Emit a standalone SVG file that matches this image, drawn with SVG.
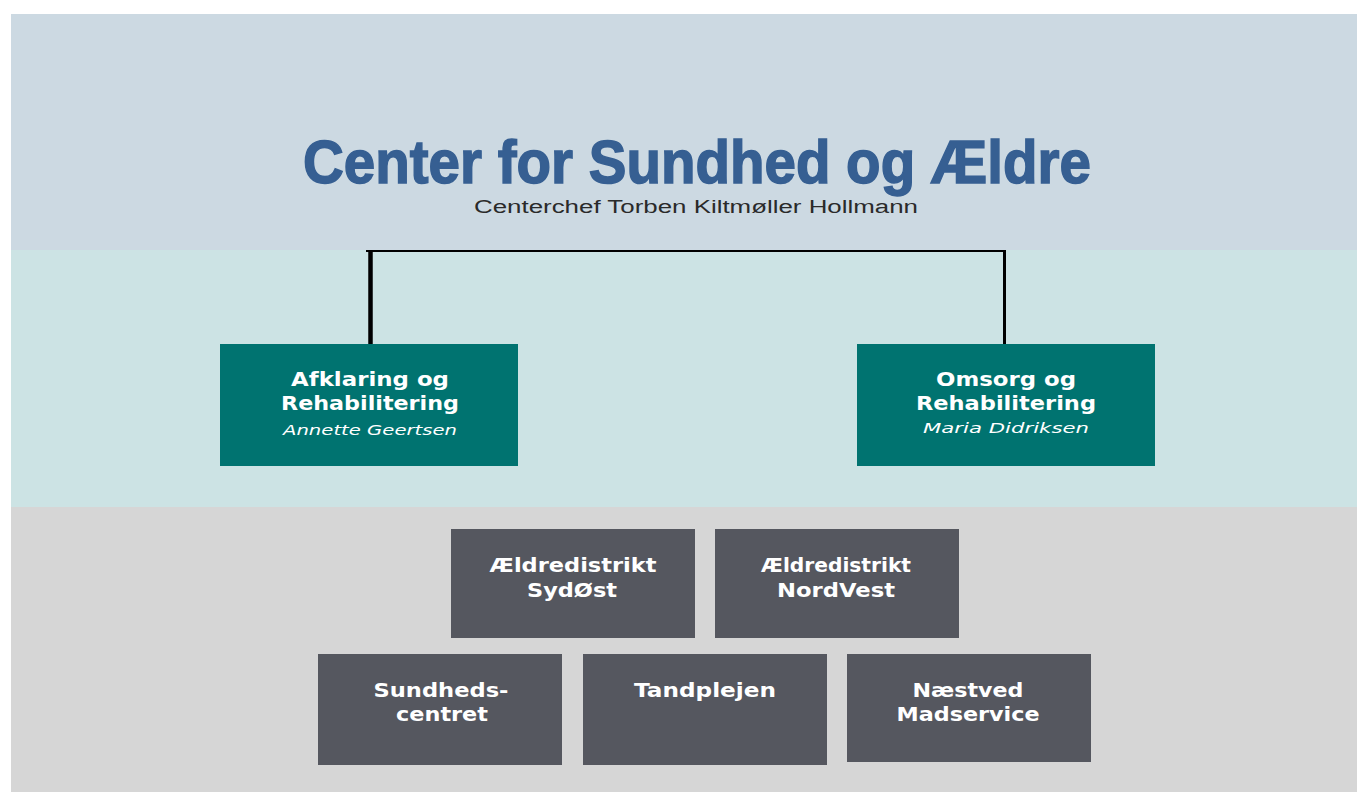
<svg xmlns="http://www.w3.org/2000/svg" width="1357" height="792" viewBox="0 0 1357 792">
<style>
.title{font-family:"Liberation Sans",Arial,sans-serif;font-weight:bold;font-size:62px;fill:#365f92;stroke:#365f92;stroke-width:1.5}
.sub{font-family:"Liberation Sans",Arial,sans-serif;font-size:18px;fill:#2a2a2a}
.teal{fill:#007370}
.grey{fill:#55575f}
.lbl{font-family:"DejaVu Sans",Verdana,sans-serif;font-weight:bold;font-size:19px;fill:#ffffff;text-anchor:middle}
.name{font-family:"DejaVu Sans",Verdana,sans-serif;font-style:italic;font-size:14px;fill:#ffffff;text-anchor:middle}
.conn{stroke:#000;fill:none}
</style>
<rect x="0" y="0" width="1357" height="792" fill="#ffffff"/>
<rect x="11" y="14" width="1346" height="236" fill="#ccd9e2"/>
<rect x="11" y="250" width="1346" height="257" fill="#cce3e4"/>
<rect x="11" y="507" width="1346" height="285" fill="#d6d6d6"/>
<g id="header">
<text class="title" x="303" y="183" textLength="788" lengthAdjust="spacingAndGlyphs">Center for Sundhed og Ældre</text>
<text class="sub" x="474" y="213" textLength="444" lengthAdjust="spacingAndGlyphs">Centerchef Torben Kiltmøller Hollmann</text>
</g>
<g id="connectors">
<path class="conn" stroke-width="2" d="M366 251 H1006"/>
<path class="conn" stroke-width="4.5" d="M370.5 250 V349"/>
<path class="conn" stroke-width="3" d="M1004.5 250 V349"/>
</g>
<g id="afklaring">
<rect class="teal" x="220" y="344" width="298" height="122"/>
<text class="lbl" x="370" y="386" textLength="158" lengthAdjust="spacingAndGlyphs">Afklaring og</text>
<text class="lbl" x="370" y="410" textLength="178" lengthAdjust="spacingAndGlyphs">Rehabilitering</text>
<text class="name" x="370" y="435" textLength="174" lengthAdjust="spacingAndGlyphs">Annette Geertsen</text>
</g>
<g id="omsorg">
<rect class="teal" x="857" y="344" width="298" height="122"/>
<text class="lbl" x="1006" y="386" textLength="140" lengthAdjust="spacingAndGlyphs">Omsorg og</text>
<text class="lbl" x="1006" y="410" textLength="180" lengthAdjust="spacingAndGlyphs">Rehabilitering</text>
<text class="name" x="1006" y="433" textLength="166" lengthAdjust="spacingAndGlyphs">Maria Didriksen</text>
</g>
<g id="sydost">
<rect class="grey" x="451" y="529" width="244" height="109"/>
<text class="lbl" x="573" y="572" textLength="167" lengthAdjust="spacingAndGlyphs">Ældredistrikt</text>
<text class="lbl" x="572" y="597" textLength="90" lengthAdjust="spacingAndGlyphs">SydØst</text>
</g>
<g id="nordvest">
<rect class="grey" x="715" y="529" width="244" height="109"/>
<text class="lbl" x="836" y="572" textLength="150" lengthAdjust="spacingAndGlyphs">Ældredistrikt</text>
<text class="lbl" x="836" y="597" textLength="118" lengthAdjust="spacingAndGlyphs">NordVest</text>
</g>
<g id="sundhedscentret">
<rect class="grey" x="318" y="654" width="244" height="111"/>
<text class="lbl" x="441" y="697" textLength="135" lengthAdjust="spacingAndGlyphs">Sundheds-</text>
<text class="lbl" x="442" y="721" textLength="92" lengthAdjust="spacingAndGlyphs">centret</text>
</g>
<g id="tandplejen">
<rect class="grey" x="583" y="654" width="244" height="111"/>
<text class="lbl" x="705" y="697" textLength="142" lengthAdjust="spacingAndGlyphs">Tandplejen</text>
</g>
<g id="madservice">
<rect class="grey" x="847" y="654" width="244" height="108"/>
<text class="lbl" x="968" y="697" textLength="111" lengthAdjust="spacingAndGlyphs">Næstved</text>
<text class="lbl" x="968" y="721" textLength="143" lengthAdjust="spacingAndGlyphs">Madservice</text>
</g>
</svg>
